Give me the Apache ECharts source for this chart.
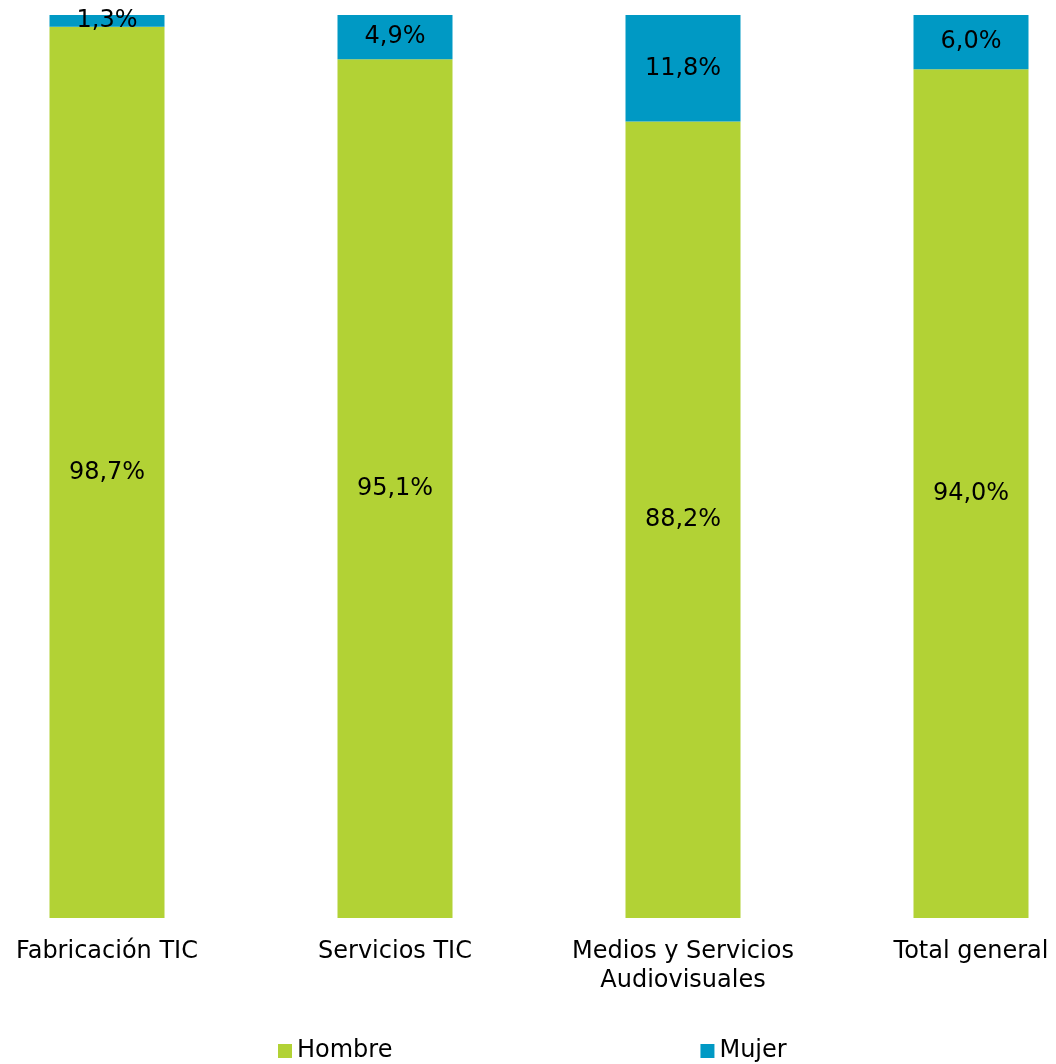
<!DOCTYPE html>
<html>
<head>
<meta charset="utf-8">
<script src="https://cdn.jsdelivr.net/npm/echarts@6/dist/echarts.min.js"></script>
<style>html,body{margin:0;padding:0;background:#fff}#c{width:1056px;height:1064px}</style>
</head>
<body>
<div id="c"></div>
<script>
const categories = ['Fabricación TIC', 'Servicios TIC', 'Medios y Servicios\nAudiovisuales', 'Total general'];
const hombre = [98.7, 95.1, 88.2, 94.0];
const mujer = [1.3, 4.9, 11.8, 6.0];
const seriesNames = ['Hombre', 'Mujer'];

const font = 'DejaVu Sans';
const fs = 24;
const fmt = p => p.value.toFixed(1).replace('.', ',') + '%';
const chart = echarts.init(document.getElementById('c'));
chart.setOption({
  animation: false,
  textStyle: { fontFamily: font },
  grid: { left: -37, width: 1152, top: 15, bottom: 146, outerBoundsMode: 'none' },
  legend: {
    data: seriesNames,
    left: 273, top: 1034,
    icon: 'rect', itemWidth: 14, itemHeight: 14, itemGap: 308,
    textStyle: { fontSize: fs, color: '#000', fontFamily: font }
  },
  xAxis: {
    type: 'category', data: categories,
    axisLine: { show: false }, axisTick: { show: false },
    axisLabel: { fontSize: fs, color: '#000', lineHeight: 29, margin: 19, fontFamily: font, interval: 0 }
  },
  yAxis: { type: 'value', min: 0, max: 100, show: false, splitLine: { show: false } },
  series: [
    { name: 'Hombre', type: 'bar', stack: 't', data: hombre, barWidth: 115,
      itemStyle: { color: '#b2d235' },
      label: { show: true, position: 'inside', formatter: fmt, fontSize: fs, color: '#000', fontFamily: font } },
    { name: 'Mujer', type: 'bar', stack: 't', data: mujer, barWidth: 115,
      itemStyle: { color: '#0099c4' },
      label: { show: true, position: 'inside', formatter: fmt, fontSize: fs, color: '#000', fontFamily: font } }
  ]
});
</script>
</body>
</html>
